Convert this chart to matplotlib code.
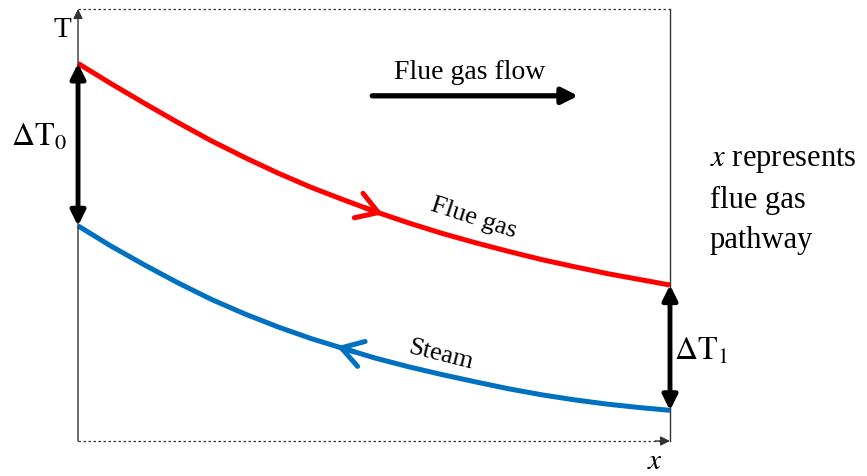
import numpy as np
import matplotlib.pyplot as plt

plt.rcParams['font.family'] = ['Liberation Serif', 'DejaVu Serif']
plt.rcParams['mathtext.fontset'] = 'stix'

# curves: x = normalised flue gas pathway, T = normalised temperature
path_x = [0.0, 0.056, 0.113, 0.169, 0.225, 0.282, 0.338, 0.394, 0.451, 0.502,
          0.558, 0.614, 0.671, 0.727, 0.783, 0.840, 0.896, 0.952, 1.0]
flue_gas_T = [0.874, 0.827, 0.781, 0.737, 0.695, 0.656, 0.620, 0.587, 0.557, 0.531,
              0.505, 0.481, 0.459, 0.439, 0.420, 0.403, 0.387, 0.373, 0.361]
steam_T = [0.498, 0.451, 0.407, 0.366, 0.328, 0.294, 0.264, 0.237, 0.213, 0.192,
           0.172, 0.154, 0.137, 0.121, 0.107, 0.095, 0.085, 0.077, 0.071]

# where the direction markers sit on each curve
flue_arrow_x = 0.515
steam_arrow_x = 0.437

fig = plt.figure(figsize=(8.67, 4.77), dpi=100)
ax = fig.add_axes([0, 0, 1, 1])
ax.set_xlim(-0.1318, 1.3328)
ax.set_ylim(-0.081, 1.0231)
ax.axis('off')

frame = '#333333'
# frame: left T axis, dotted top, solid right, dotted x axis
ax.annotate('', xy=(0, 1.0), xytext=(0, 0),
            arrowprops=dict(arrowstyle='-|>', lw=1, color=frame, mutation_scale=14,
                            shrinkA=0, shrinkB=0))
ax.plot([0, 1], [1, 1], color=frame, lw=0.9, ls=(0, (2, 2)))
ax.plot([1, 1], [0, 1], color=frame, lw=1)
ax.plot([0, 0.985], [0, 0], color=frame, lw=0.9, ls=(0, (2, 2)))
ax.annotate('', xy=(1, 0), xytext=(0.975, 0),
            arrowprops=dict(arrowstyle='-|>', lw=1, color=frame, mutation_scale=14,
                            shrinkA=0, shrinkB=0))

# temperature curves
ax.plot(path_x, flue_gas_T, color='#ff0000', lw=3.6, solid_capstyle='butt',
        solid_joinstyle='round')
ax.plot(path_x, steam_T, color='#0070c0', lw=3.6, solid_capstyle='butt',
        solid_joinstyle='round')

# flow direction markers on the curves
chevron = '->, head_length=0.42, head_width=0.26'
fy = np.interp(flue_arrow_x, path_x, flue_gas_T)
ax.annotate('', xy=(flue_arrow_x, fy),
            xytext=(flue_arrow_x - 0.03, np.interp(flue_arrow_x - 0.03, path_x, flue_gas_T)),
            arrowprops=dict(arrowstyle=chevron, lw=3.6, color='#ff0000', mutation_scale=36,
                            shrinkA=0, shrinkB=0, capstyle='round'))
sy = np.interp(steam_arrow_x, path_x, steam_T)
ax.annotate('', xy=(steam_arrow_x, sy),
            xytext=(steam_arrow_x + 0.03, np.interp(steam_arrow_x + 0.03, path_x, steam_T)),
            arrowprops=dict(arrowstyle=chevron, lw=3.6, color='#0070c0', mutation_scale=36,
                            shrinkA=0, shrinkB=0, capstyle='round'))

# temperature differences at both ends
ax.annotate('', xy=(0, flue_gas_T[0]), xytext=(0, steam_T[0]),
            arrowprops=dict(arrowstyle='<|-|>', lw=3.5, color='black', mutation_scale=22,
                            shrinkA=0, shrinkB=0))
ax.annotate('', xy=(1, flue_gas_T[-1]), xytext=(1, steam_T[-1]),
            arrowprops=dict(arrowstyle='<|-|>', lw=3.5, color='black', mutation_scale=22,
                            shrinkA=0, shrinkB=0))

# flue gas flow direction
ax.annotate('', xy=(0.845, 0.799), xytext=(0.497, 0.799),
            arrowprops=dict(arrowstyle='-|>', lw=3.8, color='black', mutation_scale=24,
                            shrinkA=0, shrinkB=0))
ax.text(0.662, 0.856, 'Flue gas flow', fontsize=20, ha='center', va='center')

# labels
ax.text(-0.027, 0.954, 'T', fontsize=21, ha='center', va='center')
ax.text(-0.066, 0.704, r'$\Delta\mathrm{T}_0$', fontsize=23, ha='center', va='center')
ax.text(1.007, 0.208, r'$\Delta\mathrm{T}_1$', fontsize=23, ha='left', va='center')
ax.text(0.975, -0.047, r'$x$', fontsize=21, ha='center', va='center')
ax.text(0.668, 0.518, 'Flue gas', fontsize=19, ha='center', va='center',
        rotation=-18, rotation_mode='anchor')
ax.text(0.613, 0.200, 'Steam', fontsize=19, ha='center', va='center',
        rotation=-14, rotation_mode='anchor')
ax.text(1.0676, 0.56, '$x$ represents\nflue gas\npathway', fontsize=22,
        ha='left', va='center', linespacing=1.5)

fig.savefig('out.png', dpi=100)
